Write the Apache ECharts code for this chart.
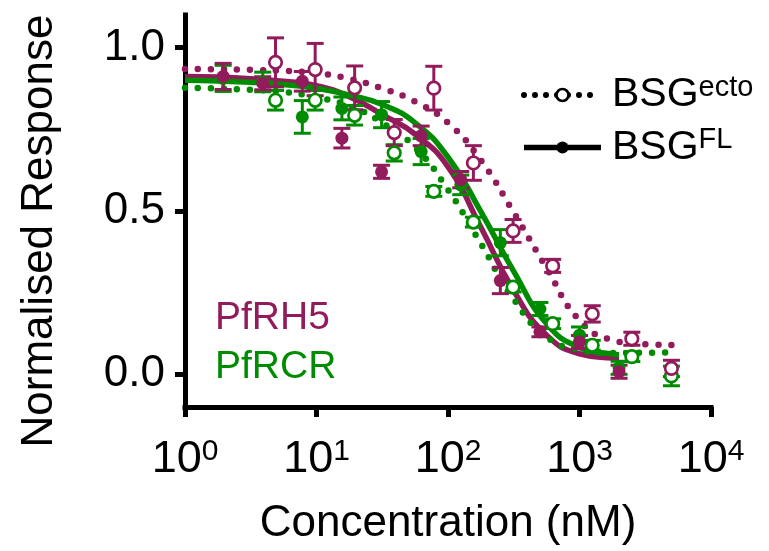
<!DOCTYPE html>
<html><head><meta charset="utf-8">
<script src="https://cdn.jsdelivr.net/npm/echarts@6/dist/echarts.min.js"></script>
<style>html,body{margin:0;padding:0;background:#fff}#c{width:769px;height:551px}</style>
</head><body><div id="c"></div>
<script>
// ---------- data ----------
const xTicks = [1, 10, 100, 1000, 10000];
const xTickExps = ['0', '1', '2', '3', '4'];
const yTicks = [0, 0.5, 1.0];

const concFL = [1.95, 3.9, 7.8, 15.6, 31.25, 62.5, 125, 250, 500, 1000, 2000];
const concEcto = [4.88, 9.77, 19.5, 39, 78, 156, 312.5, 625, 1250, 2500, 5000];

const rh5FL = [0.912, 0.891, 0.897, 0.723, 0.620, 0.730, 0.596, 0.287, 0.130, 0.099, 0.008];
const rh5FLErr = [0.04, 0.02, 0.03, 0.03, 0.02, 0.03, 0.025, 0.04, 0.015, 0.02, 0.02];
const rcrFL = [0.906, 0.895, 0.788, 0.814, 0.795, 0.682, 0.58, 0.403, 0.200, 0.120, 0.020];
const rcrFLErr = [0.04, 0.03, 0.05, 0.035, 0.04, 0.04, 0.03, 0.04, 0.02, 0.025, 0.02];
const rh5Ecto = [0.955, 0.933, 0.877, 0.740, 0.876, 0.647, 0.439, 0.332, 0.185, 0.109, 0.018];
const rh5EctoErr = [0.075, 0.08, 0.067, 0.04, 0.067, 0.053, 0.035, 0.02, 0.025, 0.02, 0.025];
const rcrEcto = [0.839, 0.839, 0.793, 0.678, 0.560, 0.466, 0.267, 0.155, 0.089, 0.054, -0.005];
const rcrEctoErr = [0.03, 0.03, 0.03, 0.025, 0.015, 0.015, 0.015, 0.015, 0.015, 0.015, 0.03];

// fitted curves at quarter-decade steps
const fitConcFL = [1, 1.778, 3.162, 5.623, 10, 17.78, 31.62, 56.23, 100, 177.8, 316.2, 562.3, 1000, 1778, 2000];
const rh5FLFit = [0.912, 0.910, 0.905, 0.897, 0.884, 0.850, 0.795, 0.735, 0.635, 0.450, 0.256, 0.120, 0.063, 0.050, 0.049];
const rcrFLFit = [0.900, 0.898, 0.894, 0.887, 0.876, 0.855, 0.826, 0.770, 0.665, 0.498, 0.315, 0.155, 0.082, 0.062, 0.060];
const fitConcEcto = [1, 1.778, 3.162, 5.623, 10, 17.78, 31.62, 56.23, 100, 177.8, 316.2, 562.3, 1000, 1778, 3162, 5000];
const rh5EctoFit = [0.935, 0.934, 0.932, 0.929, 0.922, 0.905, 0.875, 0.835, 0.770, 0.655, 0.495, 0.325, 0.165, 0.105, 0.092, 0.090];
const rcrEctoFit = [0.877, 0.875, 0.871, 0.865, 0.848, 0.822, 0.770, 0.695, 0.565, 0.400, 0.230, 0.115, 0.075, 0.065, 0.066, 0.067];

const groupNames = ['PfRH5', 'PfRCR'];
const legendSup = ['ecto', 'FL'];

// ---------- styling ----------
const MAROON = '#921b5b';
const GREEN = '#008c00';
const FONT = 'Arial, "Liberation Sans", sans-serif';

const pairs = (xs, ys) => xs.map((x, i) => [x, ys[i]]);

function fitLine(xs, ys, color, dotted, z) {
  return {
    type: 'line', data: pairs(xs, ys), smooth: 0.5,
    symbol: 'none', silent: true, z: z,
    lineStyle: dotted ? { color: color, width: 6.5, type: [0, 13], cap: 'round' }
                      : { color: color, width: 5.5 }
  };
}
function points(xs, ys, color, open, z) {
  return {
    type: 'line', data: pairs(xs, ys), symbol: 'circle',
    symbolSize: open ? 12.5 : 13, z: z,
    lineStyle: { width: 0, opacity: 0 },
    itemStyle: open ? { color: '#fff', borderColor: color, borderWidth: 2.7 }
                    : { color: color, borderWidth: 0 }
  };
}
function errBars(xs, ys, es, color, z) {
  return {
    type: 'custom', z: z, silent: true,
    data: xs.map((x, i) => [x, ys[i], es[i]]),
    encode: { x: 0, y: 1 },
    renderItem: function (params, api) {
      const x = api.value(0), y = api.value(1), e = api.value(2);
      const t = api.coord([x, y + e]), b = api.coord([x, y - e]);
      const hw = 8.5, st = { stroke: color, lineWidth: 3 };
      return { type: 'group', children: [
        { type: 'line', shape: { x1: t[0], y1: t[1], x2: b[0], y2: b[1] }, style: st },
        { type: 'line', shape: { x1: t[0] - hw, y1: t[1], x2: t[0] + hw, y2: t[1] }, style: st },
        { type: 'line', shape: { x1: b[0] - hw, y1: b[1], x2: b[0] + hw, y2: b[1] }, style: st }
      ]};
    }
  };
}

const chart = echarts.init(document.getElementById('c'), null, { renderer: 'canvas' });
const option = {
  animation: false,
  backgroundColor: '#fff',
  grid: { left: 185, right: 58, top: 15, bottom: 142, containLabel: false },
  xAxis: {
    type: 'log', logBase: 10, min: 1, max: 10000,
    axisLine: { show: true, onZero: false, lineStyle: { color: '#000', width: 5, cap: 'square' } },
    axisTick: { show: true, length: 10, customValues: xTicks, lineStyle: { color: '#000', width: 5 } },
    minorTick: { show: false }, splitLine: { show: false },
    axisLabel: {
      customValues: xTicks, margin: 30,
      formatter: function (v) {
        const i = xTicks.indexOf(v);
        return '{b|10}{s|' + (i >= 0 ? xTickExps[i] : '') + '}';
      },
      rich: {
        b: { fontSize: 45, lineHeight: 46, fontFamily: FONT, color: '#000' },
        s: { fontSize: 30, lineHeight: 30, fontFamily: FONT, color: '#000', verticalAlign: 'top' }
      }
    },
    name: 'Concentration (nM)', nameLocation: 'middle', nameGap: 95,
    nameTextStyle: { fontSize: 44, fontFamily: FONT, color: '#000' }
  },
  yAxis: {
    type: 'value', min: -0.1, max: 1.1,
    axisLine: { show: true, onZero: false, lineStyle: { color: '#000', width: 5, cap: 'square' } },
    axisTick: { show: true, length: 10, customValues: yTicks, lineStyle: { color: '#000', width: 5 } },
    splitLine: { show: false },
    axisLabel: {
      customValues: yTicks, margin: 20, fontSize: 44, fontFamily: FONT, color: '#000',
      formatter: v => v.toFixed(1)
    }
  },
  legend: {
    orient: 'vertical', left: 516, top: 68, itemWidth: 77, itemHeight: 15, itemGap: 10,
    selectedMode: false,
    data: [
      { name: legendSup[0], itemStyle: { color: '#fff', borderColor: '#000', borderWidth: 2.7 },
        lineStyle: { color: '#000', width: 6, type: [0, 11], cap: 'round' } },
      { name: legendSup[1], itemStyle: { color: '#000', borderWidth: 0 },
        lineStyle: { color: '#000', width: 5.5, type: 'solid' } }
    ],
    formatter: n => '{b|BSG}{s|' + n + '}',
    textStyle: {
      padding: [0, 0, 0, 6],
      rich: {
        b: { fontSize: 41, lineHeight: 44, fontFamily: FONT, color: '#000' },
        s: { fontSize: 29, lineHeight: 28, fontFamily: FONT, color: '#000', verticalAlign: 'top' }
      }
    }
  },
  graphic: [
    { type: 'text', x: 40, y: 231, rotation: Math.PI / 2, silent: true,
      style: { text: 'Normalised Response', font: '44px ' + FONT, fill: '#000', align: 'center', verticalAlign: 'middle' } },
    { type: 'text', x: 215, y: 318, silent: true,
      style: { text: groupNames[0], font: '39px ' + FONT, fill: MAROON, align: 'left', verticalAlign: 'middle' } },
    { type: 'text', x: 215, y: 367, silent: true,
      style: { text: groupNames[1], font: '39px ' + FONT, fill: GREEN, align: 'left', verticalAlign: 'middle' } }
  ],
  series: [
    // legend-only series
    { name: legendSup[0], type: 'line', data: [], symbol: 'circle',
      itemStyle: { color: '#fff', borderColor: '#000', borderWidth: 2.7 },
      lineStyle: { color: '#000', width: 6, type: [0, 11], cap: 'round' } },
    { name: legendSup[1], type: 'line', data: [], symbol: 'circle',
      itemStyle: { color: '#000' }, lineStyle: { color: '#000', width: 5.5 } },
    // fits
    fitLine(fitConcEcto, rh5EctoFit, MAROON, true, 2),
    fitLine(fitConcFL, rh5FLFit, MAROON, false, 2),
    fitLine(fitConcFL, rcrFLFit, GREEN, false, 2),
    fitLine(fitConcEcto, rcrEctoFit, GREEN, true, 2),
    // error bars
    errBars(concFL, rcrFL, rcrFLErr, GREEN, 3),
    errBars(concEcto, rcrEcto, rcrEctoErr, GREEN, 3),
    errBars(concFL, rh5FL, rh5FLErr, MAROON, 3),
    errBars(concEcto, rh5Ecto, rh5EctoErr, MAROON, 3),
    // points
    points(concFL, rcrFL, GREEN, false, 4),
    points(concEcto, rcrEcto, GREEN, true, 4),
    points(concFL, rh5FL, MAROON, false, 5),
    points(concEcto, rh5Ecto, MAROON, true, 5)
  ]
};
chart.setOption(option);
</script>
</body></html>
